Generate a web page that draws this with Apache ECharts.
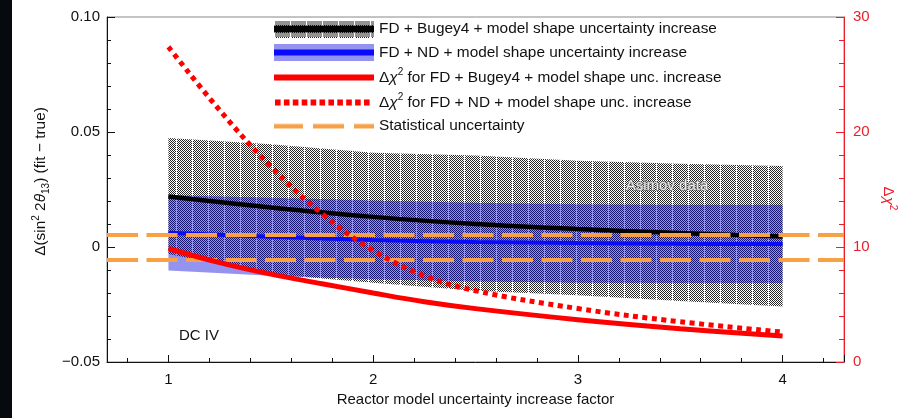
<!DOCTYPE html>
<html><head><meta charset="utf-8">
<script src="https://cdn.jsdelivr.net/npm/echarts@6/dist/echarts.min.js"></script>
<style>html,body{margin:0;padding:0;background:#fff}#c{width:901px;height:418px}</style>
</head><body><div id="c"></div><script>
// ---- data ----
const bandX = [1, 1.5, 2, 2.5, 3, 3.5, 4];
const bugeyUpper   = [0.0474, 0.0447, 0.0410, 0.0398, 0.0375, 0.0362, 0.0352];
const bugeyLower   = [-0.0030, -0.0118, -0.0155, -0.0190, -0.0210, -0.0235, -0.0259];
const bugeyCentral = [0.0220, 0.0172, 0.0131, 0.0100, 0.0078, 0.0061, 0.0046];
const ndUpper   = [0.0226, 0.0214, 0.0202, 0.0192, 0.0186, 0.0184, 0.0184];
const ndLower   = [-0.0102, -0.0125, -0.0140, -0.0150, -0.0155, -0.0157, -0.0157];
const ndCentral = [0.0062, 0.0045, 0.0030, 0.0022, 0.0017, 0.0014, 0.0013];
const chiX = [1, 1.25, 1.5, 1.75, 2, 2.25, 2.5, 3, 3.5, 4];
const chi2Bugey = [9.87, 8.64, 7.64, 6.81, 6.00, 5.24, 4.64, 3.68, 2.90, 2.26];
const chi2ND    = [27.4, 21.9, 17.0, 12.9, 9.7, 7.5, 6.2, 4.65, 3.5, 2.6];
const statUnc = [0.0053, -0.0054];
const xRange = [0.7, 4.3];
const yLeftTicks = [-0.05, 0, 0.05, 0.10];
const yRightTicks = [0, 10, 20, 30];
const legendNames = [
  'FD + Bugey4 + model shape uncertainty increase',
  'FD + ND + model shape uncertainty increase',
  'Δχ2 for FD + Bugey4 + model shape unc. increase',
  'Δχ2 for FD + ND + model shape unc. increase',
  'Statistical uncertainty'
];

const FONT = '"Liberation Sans", Arial, Helvetica, sans-serif';
const RED = '#f00';
const RED_AX = '#e8202a';
const ORANGE = '#f7a045';
const BLUE = '#0a0aff';
const BLUE_BAND = 'rgba(0,0,220,0.42)';

// checker pattern for the hatched band
function makeChecker() {
  const c = document.createElement('canvas');
  c.width = 16; c.height = 2;
  const g = c.getContext('2d');
  g.fillStyle = '#fff'; g.fillRect(0, 0, 16, 2);
  g.fillStyle = '#262626';
  for (let x = 1; x < 16; x++) for (let y = 0; y < 2; y++) if ((x + y) % 2 === 0) g.fillRect(x, y, 1, 1);
  return c;
}
const checker = makeChecker();
const checkerFill = { image: checker, repeat: 'repeat' };

function icon(draw) {
  const c = document.createElement('canvas');
  c.width = 100; c.height = 17;
  const g = c.getContext('2d');
  draw(g);
  return 'image://' + c.toDataURL();
}
const icons = [
  icon(g => { g.fillStyle = g.createPattern(checker, 'repeat'); g.fillRect(0, 0, 100, 17); g.fillStyle = '#000'; g.fillRect(0, 5, 100, 7); }),
  icon(g => { g.fillStyle = BLUE_BAND; g.fillRect(0, 0, 100, 17); g.fillStyle = BLUE; g.fillRect(0, 5.5, 100, 6); }),
  icon(g => { g.fillStyle = RED; g.fillRect(0, 5.5, 100, 6); }),
  icon(g => { g.fillStyle = RED; for (let i = 0; i < 11; i++) g.fillRect(1 + i * 8.9, 5.5, 5.6, 6); }),
  icon(g => { g.fillStyle = ORANGE; g.fillRect(0, 6.5, 29, 4.5); g.fillRect(39, 6.5, 31, 4.5); g.fillRect(80, 6.5, 20, 4.5); })
];

function band(upper, lower, fill, z) {
  return {
    type: 'custom', xAxisIndex: 0, yAxisIndex: 0, z: z, silent: true,
    data: bandX.map((x, i) => [x, lower[i], upper[i]]),
    renderItem: (params, api) => {
      if (params.dataIndex !== 0) return null;
      const top = bandX.map((x, i) => api.coord([x, upper[i]]));
      const bot = bandX.map((x, i) => api.coord([x, lower[i]])).reverse();
      return { type: 'polygon', shape: { points: top.concat(bot) }, style: { fill: fill } };
    }
  };
}

const chart = echarts.init(document.getElementById('c'), null, { renderer: 'canvas' });
const rich = {
  n: { fontSize: 15.4, fontFamily: FONT, color: '#111', lineHeight: 20 },
  i: { fontSize: 15.4, fontFamily: FONT, fontStyle: 'italic', color: '#111', lineHeight: 20 },
  s: { fontSize: 10, fontFamily: FONT, color: '#111', verticalAlign: 'top', lineHeight: 12 },
  b: { fontSize: 10, fontFamily: FONT, color: '#111', verticalAlign: 'bottom', lineHeight: 12 }
};
const richRed = {
  n: { fontSize: 15, fontFamily: FONT, color: RED_AX, lineHeight: 20 },
  i: { fontSize: 15, fontFamily: FONT, fontStyle: 'italic', color: RED_AX, lineHeight: 20 },
  s: { fontSize: 10, fontFamily: FONT, color: RED_AX, verticalAlign: 'top', lineHeight: 12 }
};

chart.setOption({
  animation: false,
  backgroundColor: '#fff',
  grid: { left: 107, right: 57, top: 17, bottom: 56, show: true, borderColor: '#888', borderWidth: 1,
          backgroundColor: 'transparent', containLabel: false, outerBoundsMode: 'none' },
  legend: {
    orient: 'vertical', left: 274, top: 20.5, padding: 0, itemWidth: 100, itemHeight: 17, itemGap: 6.5,
    selectedMode: false,
    textStyle: { fontSize: 15.4, fontFamily: FONT, color: '#111', rich: rich },
    formatter: name => name.indexOf('Δχ2') === 0 ? '{n|Δ}{i|χ}{s|2}{n|' + name.slice(3) + '}' : name,
    data: legendNames.map((n, i) => ({ name: n, icon: icons[i] }))
  },
  xAxis: {
    type: 'value', min: xRange[0], max: xRange[1], minInterval: 1, maxInterval: 1, splitNumber: 4,
    name: 'Reactor model uncertainty increase factor', nameLocation: 'middle', nameGap: 27,
    nameTextStyle: { fontSize: 15, fontFamily: FONT, color: '#111' },
    axisLine: { show: true, onZero: false, lineStyle: { color: '#111', width: 1 } },
    axisTick: { show: true, inside: true, length: 7, lineStyle: { color: '#111' } },
    minorTick: { show: true, splitNumber: 5, length: 4, lineStyle: { color: '#111' } },
    axisLabel: { fontSize: 15, fontFamily: FONT, color: '#111', margin: 10, showMinLabel: false, showMaxLabel: false,
                 formatter: v => Number.isInteger(v) ? String(v) : '' },
    splitLine: { show: false }
  },
  yAxis: [{
    type: 'value', min: yLeftTicks[0], max: yLeftTicks[yLeftTicks.length - 1], interval: 0.05, position: 'left',
    name: '{n|Δ(sin}{s|2}{n| 2}{i|θ}{b|13}{n|) (fit − true)}', nameLocation: 'middle', nameGap: 48, nameRotate: 90,
    nameTextStyle: { rich: rich, padding: [0, 0, 0, 16] },
    axisLine: { show: true, onZero: false, lineStyle: { color: '#111', width: 1 } },
    axisTick: { show: true, inside: true, length: 8, lineStyle: { color: '#111' } },
    minorTick: { show: true, splitNumber: 5, length: 4, lineStyle: { color: '#111' } },
    axisLabel: { fontSize: 15, fontFamily: FONT, color: '#111', margin: 7,
                 formatter: v => v === 0 ? '0' : (v < 0 ? '−' + Math.abs(v).toFixed(2) : v.toFixed(2)) },
    splitLine: { show: false }
  }, {
    type: 'value', min: yRightTicks[0], max: yRightTicks[yRightTicks.length - 1], interval: 10, position: 'right',
    name: '{n|Δ}{i|χ}{s|2}', nameLocation: 'middle', nameGap: 34, nameRotate: -90,
    nameTextStyle: { rich: richRed, padding: [0, 0, 0, 18] },
    axisLine: { show: true, onZero: false, lineStyle: { color: RED_AX, width: 1 } },
    axisTick: { show: true, inside: true, length: 8, lineStyle: { color: RED_AX } },
    minorTick: { show: true, splitNumber: 5, length: 5, lineStyle: { color: RED_AX } },
    axisLabel: { fontSize: 15, fontFamily: FONT, color: RED_AX, margin: 9 },
    splitLine: { show: false }
  }],
  graphic: [
    { type: 'rect', left: 0, top: 0, z: 100, silent: true, shape: { width: 12, height: 418 }, style: { fill: '#06090d' } },
    { type: 'text', left: 179, top: 328, silent: true, style: { text: 'DC IV', font: '15px ' + FONT, fill: '#111' } },
    { type: 'text', left: 625, top: 178, z: 10, silent: true,
      style: { text: 'Asimov data', font: '15px ' + FONT, fill: '#ececec', stroke: '#6e6e6e', lineWidth: 1.4, strokeFirst: true } }
  ],
  series: [
    band(bugeyUpper, bugeyLower, checkerFill, 1),
    band(ndUpper, ndLower, BLUE_BAND, 2),
    {
      name: legendNames[4], type: 'line', yAxisIndex: 0, data: [], z: 3, silent: true,
      lineStyle: { color: ORANGE, width: 4 }, itemStyle: { color: ORANGE },
      markLine: { silent: true, precision: 6, symbol: ['none', 'none'], label: { show: false },
        lineStyle: { color: ORANGE, width: 4, type: [31, 8.5], opacity: 1 },
        emphasis: { disabled: true },
        data: statUnc.map(v => ({ yAxis: v })) }
    },
    {
      name: legendNames[0], type: 'line', yAxisIndex: 0, z: 4, smooth: 0.4, showSymbol: false, silent: true,
      data: bandX.map((x, i) => [x, bugeyCentral[i]]),
      lineStyle: { color: '#000', width: 4.5 }, itemStyle: { color: '#000' }
    },
    {
      name: legendNames[1], type: 'line', yAxisIndex: 0, z: 4, smooth: 0.4, showSymbol: false, silent: true,
      data: bandX.map((x, i) => [x, ndCentral[i]]),
      lineStyle: { color: BLUE, width: 4 }, itemStyle: { color: BLUE }
    },
    {
      name: legendNames[2], type: 'line', yAxisIndex: 1, z: 5, smooth: 0.4, showSymbol: false, silent: true,
      data: chiX.map((x, i) => [x, chi2Bugey[i]]),
      lineStyle: { color: RED, width: 5 }, itemStyle: { color: RED }
    },
    {
      name: legendNames[3], type: 'line', yAxisIndex: 1, z: 5, smooth: 0.4, showSymbol: false, silent: true,
      data: chiX.map((x, i) => [x, chi2ND[i]]),
      lineStyle: { color: RED, width: 5, type: [5, 4.5], cap: 'butt' }, itemStyle: { color: RED }
    }
  ]
});
</script></body></html>
